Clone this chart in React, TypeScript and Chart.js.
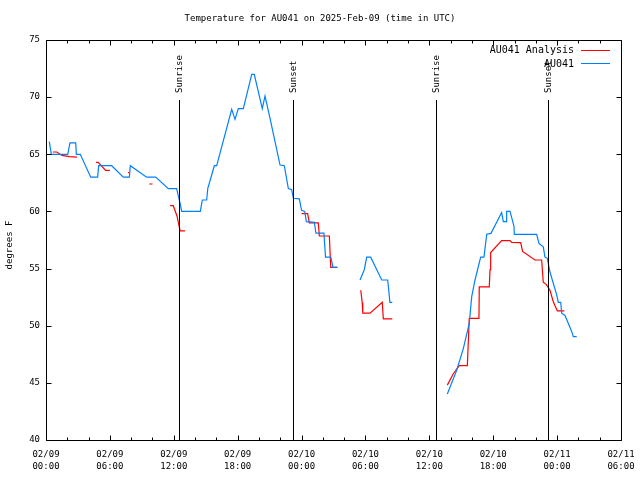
import React, { useEffect, useRef } from "react";
import { Chart, registerables } from "chart.js";
Chart.register(...registerables);

const FONT = "'DejaVu Sans Mono', monospace";
const TITLE = "Temperature for AU041 on 2025-Feb-09 (time in UTC)";
const Y_LABEL = "degrees F";
const SERIES_NAMES = ["AU041 Analysis", "AU041"];
const SERIES_COLORS = ["#ff0000", "#0080ff"];
const X_TICK_DATES = ["02/09", "02/09", "02/09", "02/09", "02/10", "02/10", "02/10", "02/10", "02/11", "02/11"];
const X_TICK_TIMES = ["00:00", "06:00", "12:00", "18:00", "00:00", "06:00", "12:00", "18:00", "00:00", "06:00"];
const SUN_EVENTS = ["Sunrise", "Sunset", "Sunrise", "Sunset"];
const SUN_HOURS = [12.52, 23.23, 36.6, 47.18];

// hours since 02/09 00:00 UTC; null temps break the line
const analysisHours = [
  0.63, 1.0, 1.5, 2.2, 2.9, 3.5,
  4.7, 4.9, 5.6, 6.0, 6.5,
  7.7, 7.8, 8.5,
  9.7, 10.0, 10.5,
  11.65, 11.95, 12.3, 12.55, 12.6, 13.05, 18,
  24.01, 24.57, 24.73, 25.57, 25.67, 26.61, 26.74, 27.36, 28,
  29.56, 29.7, 29.75, 30.43, 31.58, 31.68, 32.52, 35,
  37.69, 38.25, 38.81, 39.57, 39.66, 39.75, 40.66, 40.69, 41.63, 41.7, 41.76,
  42.79, 43.58, 43.73, 44.58, 44.76, 45.92, 46.55, 46.7, 47.0, 47.33, 47.64, 48.02, 48.68,
];
const analysisTemps = [
  65.2, 65.2, 64.9, 64.8, 64.75, null,
  64.3, 64.3, 63.6, 63.6, null,
  63.4, 63.4, null,
  62.4, 62.4, null,
  60.5, 60.5, 59.6, 58.5, 58.3, 58.3, null,
  59.8, 59.8, 59.0, 59.0, 57.85, 57.85, 55.1, 55.1, null,
  53.1, 52.0, 51.1, 51.1, 52.05, 50.6, 50.6, null,
  44.8, 45.8, 46.5, 46.5, 48.6, 50.65, 50.65, 53.4, 53.4, 54.9, 56.4,
  57.45, 57.45, 57.3, 57.27, 56.5, 55.75, 55.75, 53.8, 53.6, 53.1, 52.1, 51.3, 51.3,
];

const obsHours = [
  0.31, 0.5, 2.04, 2.25, 2.79, 2.85, 3.22, 4.2, 4.85, 4.95, 6.17, 7.26, 7.83, 7.92, 9.45, 10.3,
  11.49, 12.27, 12.44, 12.6, 12.74, 14.49, 14.68, 15.09, 15.19, 15.81, 16.03, 17.44, 17.75,
  18.06, 18.53, 19.32, 19.56, 20.31, 20.57, 21.04, 21.98, 22.38, 22.76, 23.07, 23.23, 23.79,
  24.0, 24.3, 24.45, 25.2, 25.35, 26.1, 26.25, 26.75, 26.95, 27.36, 28.5,
  29.49, 29.89, 30.12, 30.49, 31.53, 32.09, 32.3, 32.52, 35,
  37.69, 38.57, 39.19, 39.75, 39.98, 40.29, 40.82, 41.13, 41.39, 41.79, 42.79, 42.95, 43.2,
  43.26, 43.58, 43.95, 43.98, 46.08, 46.3, 46.7, 46.86, 47.08, 47.33, 47.96, 48.11, 48.34,
  48.43, 48.74, 49.37, 49.52, 49.84,
];
const obsTemps = [
  66.1, 65.0, 65.0, 66.0, 66.0, 65.0, 65.0, 63.0, 63.0, 64.0, 64.0, 63.0, 63.0, 64.0, 63.0, 63.0,
  62.0, 62.0, 61.3, 60.7, 60.0, 60.0, 61.0, 61.0, 62.0, 64.0, 64.0, 68.94, 68.06,
  69.0, 69.0, 72.0, 72.0, 69.0, 70.1, 68.15, 64.06, 64.0, 62.0, 61.9, 61.15, 61.1,
  60.1, 60.0, 59.1, 59.05, 58.1, 58.1, 56.0, 56.0, 55.1, 55.1, null,
  54.0, 54.9, 56.0, 56.0, 54.0, 54.0, 52.05, 52.05, null,
  44.03, 46.1, 48.0, 50.2, 52.55, 54.0, 56.0, 56.0, 58.0, 58.08, 59.9, 59.1, 59.1,
  60.0, 60.0, 58.7, 58.0, 58.0, 57.2, 56.9, 56.0, 55.9, 54.7, 52.7, 52.05, 52.05,
  51.1, 50.9, 49.5, 49.04, 49.04,
];

const X_MIN = 0;
const X_MAX = 54;
const X_STEP = 6;
const X_MINOR = 2;
const Y_MIN = 40;
const Y_MAX = 75;
const Y_STEP = 5;

const toPoints = (hs: number[], ts: (number | null)[]) => hs.map((h, i) => ({ x: h, y: ts[i] }));

const overlay = {
  id: "overlay",
  afterDatasetsDraw(chart: any) {
    const { ctx, chartArea: a, scales } = chart;
    const xs = scales.x;
    const ys = scales.y;
    ctx.save();
    ctx.fillStyle = "#000";
    ctx.strokeStyle = "#000";
    ctx.lineWidth = 1;
    ctx.font = `9px ${FONT}`;

    // sunrise / sunset markers
    const yTop = a.top + 0.15 * (a.bottom - a.top);
    SUN_HOURS.forEach((h, i) => {
      const x = Math.round(xs.getPixelForValue(h)) + 0.5;
      ctx.beginPath();
      ctx.moveTo(x, a.bottom);
      ctx.lineTo(x, yTop);
      ctx.stroke();
      ctx.save();
      ctx.translate(x + 0.5, yTop - 7);
      ctx.rotate(-Math.PI / 2);
      ctx.textAlign = "left";
      ctx.textBaseline = "middle";
      ctx.fillText(SUN_EVENTS[i], 0, 0);
      ctx.restore();
    });

    // border
    const L = Math.round(a.left) + 0.5;
    const R = Math.round(a.right) + 0.5;
    const T = Math.round(a.top) + 0.5;
    const B = Math.round(a.bottom) + 0.5;
    ctx.beginPath();
    ctx.rect(L, T, R - L, B - T);
    ctx.stroke();

    // ticks (inward, mirrored)
    ctx.beginPath();
    for (let h = X_MIN; h <= X_MAX; h += X_MINOR) {
      const x = Math.round(xs.getPixelForValue(h)) + 0.5;
      const len = h % X_STEP === 0 ? 5 : 3;
      ctx.moveTo(x, B);
      ctx.lineTo(x, B - len);
      ctx.moveTo(x, T);
      ctx.lineTo(x, T + len);
    }
    for (let v = Y_MIN; v <= Y_MAX; v += Y_STEP) {
      const y = Math.round(ys.getPixelForValue(v)) + 0.5;
      ctx.moveTo(L, y);
      ctx.lineTo(L + 5, y);
      ctx.moveTo(R, y);
      ctx.lineTo(R - 5, y);
    }
    ctx.stroke();

    // legend
    ctx.font = `10px ${FONT}`;
    ctx.textAlign = "right";
    ctx.textBaseline = "middle";
    SERIES_NAMES.forEach((name, i) => {
      const y = 49.5 + i * 13.5;
      ctx.fillStyle = "#000";
      ctx.fillText(name, 574, y + 1);
      ctx.strokeStyle = SERIES_COLORS[i];
      ctx.beginPath();
      ctx.moveTo(581, Math.round(y) + 0.5);
      ctx.lineTo(610, Math.round(y) + 0.5);
      ctx.stroke();
    });

    // title
    ctx.font = `9px ${FONT}`;
    ctx.fillStyle = "#000";
    ctx.textAlign = "center";
    ctx.fillText(TITLE, 320, 19);

    // y axis label
    ctx.save();
    ctx.translate(10, 245);
    ctx.rotate(-Math.PI / 2);
    ctx.textAlign = "center";
    ctx.textBaseline = "middle";
    ctx.fillText(Y_LABEL, 0, 0);
    ctx.restore();

    ctx.restore();
  },
};

export default function App() {
  const ref = useRef<HTMLCanvasElement>(null);
  useEffect(() => {
    if (!ref.current) return;
    const chart = new Chart(ref.current, {
      type: "line",
      data: {
        datasets: [
          {
            label: SERIES_NAMES[0],
            data: toPoints(analysisHours, analysisTemps) as any,
            borderColor: SERIES_COLORS[0],
            borderWidth: 1.2,
            pointRadius: 0,
            tension: 0,
            spanGaps: false,
            order: 2,
          },
          {
            label: SERIES_NAMES[1],
            data: toPoints(obsHours, obsTemps) as any,
            borderColor: SERIES_COLORS[1],
            borderWidth: 1.2,
            pointRadius: 0,
            tension: 0,
            spanGaps: false,
            order: 1,
          },
        ],
      },
      options: {
        animation: false,
        responsive: false,
        devicePixelRatio: 1,
        layout: { padding: { top: 40, right: 19, left: 0, bottom: 0 } },
        plugins: { legend: { display: false }, tooltip: { enabled: false }, title: { display: false } },
        scales: {
          x: {
            type: "linear",
            min: X_MIN,
            max: X_MAX,
            grid: { display: false, drawTicks: false },
            border: { display: false },
            ticks: {
              stepSize: X_STEP,
              autoSkip: false,
              maxRotation: 0,
              minRotation: 0,
              padding: 9,
              color: "#000",
              font: { family: FONT, size: 9, lineHeight: 12 / 9 },
              callback: (v: any) => {
                const i = Math.round(Number(v) / X_STEP);
                return [X_TICK_DATES[i], X_TICK_TIMES[i]];
              },
            },
            afterFit: (s: any) => {
              s.height = 40;
              s.paddingLeft = 0;
              s.paddingRight = 0;
            },
          },
          y: {
            min: Y_MIN,
            max: Y_MAX,
            grid: { display: false, drawTicks: false },
            border: { display: false },
            ticks: {
              stepSize: Y_STEP,
              padding: 6,
              color: "#000",
              font: { family: FONT, size: 9 },
            },
            afterFit: (s: any) => {
              s.width = 46;
              s.paddingTop = 0;
              s.paddingBottom = 0;
            },
          },
        },
      },
      plugins: [overlay],
    });
    return () => chart.destroy();
  }, []);
  return (
    <canvas
      ref={ref}
      width={640}
      height={480}
      style={{ position: "absolute", left: 0, top: 0, display: "block", background: "#fff" }}
    />
  );
}
